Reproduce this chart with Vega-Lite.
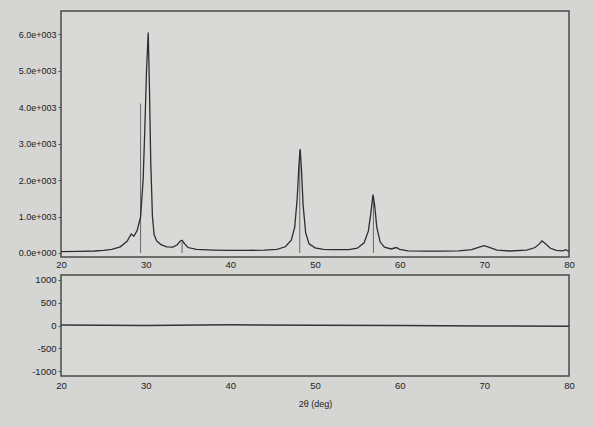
{
  "$schema": "https://vega.github.io/schema/vega-lite/v6.json",
  "background": "#d5d5d3",
  "padding": {"left": 4, "top": 10, "right": 25, "bottom": 22},
  "config": {
    "font": "Liberation Sans",
    "view": {"stroke": "#4a4a4a", "strokeWidth": 1.5, "fill": "#d9d9d7"},
    "axis": {"domain": false, "grid": false, "ticks": true, "tickSize": 3, "tickColor": "#555", "labelFontSize": 9.5, "labelColor": "#222", "labelFlush": false, "labelOverlap": false, "labelBound": false}
  },
  "datasets": {
    "pattern": [
      {"x": 20, "y": 40}, {"x": 22, "y": 45}, {"x": 24, "y": 55}, {"x": 25, "y": 70},
      {"x": 26, "y": 100}, {"x": 27, "y": 170}, {"x": 27.8, "y": 320}, {"x": 28.3, "y": 520},
      {"x": 28.6, "y": 460}, {"x": 29.0, "y": 620}, {"x": 29.4, "y": 1000}, {"x": 29.7, "y": 2000},
      {"x": 29.9, "y": 3400}, {"x": 30.1, "y": 5000}, {"x": 30.3, "y": 6050}, {"x": 30.45, "y": 4500},
      {"x": 30.6, "y": 2500}, {"x": 30.8, "y": 1000}, {"x": 31.0, "y": 500}, {"x": 31.3, "y": 330},
      {"x": 31.8, "y": 230}, {"x": 32.5, "y": 170}, {"x": 33.2, "y": 160}, {"x": 33.7, "y": 220},
      {"x": 34.1, "y": 330}, {"x": 34.3, "y": 350}, {"x": 34.6, "y": 250}, {"x": 35.0, "y": 150},
      {"x": 36, "y": 100}, {"x": 38, "y": 80}, {"x": 40, "y": 70}, {"x": 42, "y": 70},
      {"x": 44, "y": 80}, {"x": 45.5, "y": 100}, {"x": 46.5, "y": 170}, {"x": 47.2, "y": 350},
      {"x": 47.6, "y": 700}, {"x": 47.9, "y": 1500}, {"x": 48.1, "y": 2400}, {"x": 48.25, "y": 2850},
      {"x": 48.4, "y": 2300}, {"x": 48.6, "y": 1300}, {"x": 48.9, "y": 550}, {"x": 49.3, "y": 250},
      {"x": 50, "y": 140}, {"x": 51, "y": 100}, {"x": 52, "y": 90}, {"x": 54, "y": 90},
      {"x": 55, "y": 130}, {"x": 55.8, "y": 280}, {"x": 56.3, "y": 600}, {"x": 56.6, "y": 1100},
      {"x": 56.85, "y": 1600}, {"x": 57.05, "y": 1300}, {"x": 57.3, "y": 700}, {"x": 57.7, "y": 300},
      {"x": 58.2, "y": 160}, {"x": 59, "y": 110}, {"x": 59.6, "y": 150}, {"x": 60, "y": 100},
      {"x": 61, "y": 60}, {"x": 63, "y": 50}, {"x": 65, "y": 50}, {"x": 67, "y": 60},
      {"x": 68.5, "y": 90}, {"x": 69.5, "y": 170}, {"x": 70, "y": 200}, {"x": 70.5, "y": 160},
      {"x": 71.5, "y": 80}, {"x": 73, "y": 55}, {"x": 75, "y": 80}, {"x": 76, "y": 150},
      {"x": 76.5, "y": 250}, {"x": 76.8, "y": 330}, {"x": 77.2, "y": 260}, {"x": 77.8, "y": 130},
      {"x": 78.5, "y": 70}, {"x": 79.3, "y": 60}, {"x": 79.6, "y": 90}, {"x": 80, "y": 40}
    ],
    "sticks": [
      {"x": 29.4, "h": 4100}, {"x": 34.3, "h": 330}, {"x": 48.2, "h": 2800}, {"x": 56.9, "h": 1550}
    ],
    "residual": [
      {"x": 20, "r": 10}, {"x": 30, "r": 0}, {"x": 40, "r": 15}, {"x": 50, "r": 5},
      {"x": 60, "r": 0}, {"x": 70, "r": -10}, {"x": 80, "r": -15}
    ]
  },
  "vconcat": [
    {
      "width": 508,
      "height": 246,
      "layer": [
        {
          "data": {"name": "sticks"},
          "mark": {"type": "rule", "color": "#666", "strokeWidth": 1},
          "encoding": {
            "x": {"field": "x", "type": "quantitative", "scale": {"domain": [20, 80], "nice": false, "zero": false}},
            "y": {"field": "h", "type": "quantitative", "scale": {"domain": [-110, 6640], "nice": false, "zero": false}},
            "y2": {"datum": 0}
          }
        },
        {
          "data": {"name": "pattern"},
          "mark": {"type": "line", "color": "#2e2e2e", "strokeWidth": 1.3},
          "encoding": {
            "x": {"field": "x", "type": "quantitative", "scale": {"domain": [20, 80], "nice": false, "zero": false},
                  "axis": {"title": null, "values": [20, 30, 40, 50, 60, 70, 80], "ticks": false, "labelPadding": 2, "minExtent": 13, "maxExtent": 13}},
            "y": {"field": "y", "type": "quantitative", "scale": {"domain": [-110, 6640], "nice": false, "zero": false},
                  "axis": {"title": null, "values": [0, 1000, 2000, 3000, 4000, 5000, 6000], "labelExpr": "datum.value === 0 ? '0.0e+000' : format(datum.value / 1000, '.1f') + 'e+003'", "labelFontSize": 9, "minExtent": 56, "maxExtent": 56}}
          }
        }
      ]
    },
    {
      "width": 508,
      "height": 101,
      "data": {"name": "residual"},
      "mark": {"type": "line", "color": "#333", "strokeWidth": 1.6},
      "encoding": {
        "x": {"field": "x", "type": "quantitative", "scale": {"domain": [20, 80], "nice": false, "zero": false},
              "axis": {"title": "2θ (deg)", "titleFontSize": 9, "titleFontWeight": "normal", "titleColor": "#222", "titlePadding": 10, "values": [20, 30, 40, 50, 60, 70, 80], "ticks": false, "labelPadding": 4}},
        "y": {"field": "r", "type": "quantitative", "scale": {"domain": [-1100, 1100], "nice": false},
              "axis": {"title": null, "values": [-1000, -500, 0, 500, 1000], "labelExpr": "datum.value < 0 ? '-' + abs(datum.value) : '' + datum.value", "minExtent": 56, "maxExtent": 56}}
      }
    }
  ],
  "spacing": 2
}
